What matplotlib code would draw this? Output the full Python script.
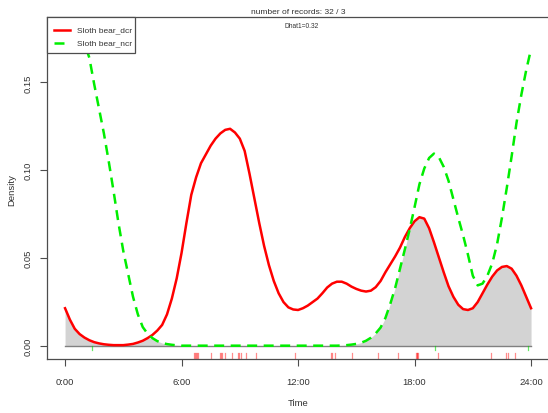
import matplotlib
matplotlib.use("Agg")
import matplotlib.pyplot as plt
from matplotlib.patches import Rectangle
from matplotlib.lines import Line2D
import numpy as np

plt.rcParams['font.family'] = ['Liberation Sans Narrow', 'Liberation Sans', 'DejaVu Sans']

# ---- data ----
hours = [0.00, 0.25, 0.50, 0.75, 1.00, 1.25, 1.50, 1.75, 2.00, 2.25, 2.50, 2.75,
         3.00, 3.25, 3.50, 3.75, 4.00, 4.25, 4.50, 4.75, 5.00, 5.25, 5.50, 5.75,
         6.00, 6.25, 6.50, 6.75, 7.00, 7.25, 7.50, 7.75, 8.00, 8.25, 8.50, 8.75,
         9.00, 9.25, 9.50, 9.75, 10.00, 10.25, 10.50, 10.75, 11.00, 11.25, 11.50, 11.75,
         12.00, 12.25, 12.50, 12.75, 13.00, 13.25, 13.50, 13.75, 14.00, 14.25, 14.50, 14.75,
         15.00, 15.25, 15.50, 15.75, 16.00, 16.25, 16.50, 16.75, 17.00, 17.25, 17.50, 17.75,
         18.00, 18.25, 18.50, 18.75, 19.00, 19.25, 19.50, 19.75, 20.00, 20.25, 20.50, 20.75,
         21.00, 21.25, 21.50, 21.75, 22.00, 22.25, 22.50, 22.75, 23.00, 23.25, 23.50, 23.75,
         24.00]

dcr_density = [0.0215, 0.0150, 0.0098, 0.0068, 0.0048, 0.0033, 0.0022, 0.0015, 0.0010, 0.0007, 0.0005, 0.0005,
               0.0005, 0.0008, 0.0012, 0.0020, 0.0030, 0.0045, 0.0063, 0.0088, 0.0120, 0.0180, 0.0270, 0.0385,
               0.0530, 0.0700, 0.0860, 0.0960, 0.1040, 0.1090, 0.1140, 0.1180, 0.1210, 0.1230, 0.1236, 0.1215,
               0.1180, 0.1110, 0.0980, 0.0840, 0.0700, 0.0570, 0.0460, 0.0370, 0.0300, 0.0250, 0.0220, 0.0208,
               0.0205, 0.0215, 0.0230, 0.0250, 0.0270, 0.0300, 0.0333, 0.0355, 0.0366, 0.0366, 0.0355, 0.0338,
               0.0325, 0.0315, 0.0310, 0.0315, 0.0335, 0.0370, 0.0420, 0.0465, 0.0510, 0.0560, 0.0620, 0.0670,
               0.0710, 0.0733, 0.0725, 0.0670, 0.0590, 0.0505, 0.0420, 0.0340, 0.0280, 0.0235, 0.0210, 0.0205,
               0.0215, 0.0250, 0.0300, 0.0350, 0.0395, 0.0430, 0.0450, 0.0455, 0.0440, 0.0400, 0.0345, 0.0280,
               0.0215]

ncr_density = [0.1690, 0.1735, 0.1757, 0.1755, 0.1725, 0.1640, 0.1490, 0.1350, 0.1210, 0.1050, 0.0880, 0.0700,
               0.0540, 0.0410, 0.0280, 0.0180, 0.0108, 0.0070, 0.0045, 0.0028, 0.0017, 0.0011, 0.0007, 0.0004,
               0.0002, 0.0002, 0.0002, 0.0002, 0.0002, 0.0002, 0.0002, 0.0002, 0.0002, 0.0002, 0.0002, 0.0002,
               0.0002, 0.0002, 0.0002, 0.0002, 0.0002, 0.0002, 0.0002, 0.0002, 0.0002, 0.0002, 0.0002, 0.0002,
               0.0002, 0.0002, 0.0002, 0.0002, 0.0002, 0.0002, 0.0002, 0.0002, 0.0002, 0.0003, 0.0005, 0.0008,
               0.0012, 0.0019, 0.0030, 0.0047, 0.0072, 0.0105, 0.0160, 0.0240, 0.0330, 0.0440, 0.0550, 0.0665,
               0.0790, 0.0920, 0.1010, 0.1070, 0.1095, 0.1075, 0.1020, 0.0940, 0.0835, 0.0730, 0.0630, 0.0520,
               0.0400, 0.0345, 0.0355, 0.0400, 0.0470, 0.0580, 0.0730, 0.0900, 0.1080, 0.1270, 0.1430, 0.1570,
               0.1690]

dcr_times = [6.64, 6.69, 6.74, 6.80, 6.87, 7.53, 7.99, 8.04, 8.10, 8.25, 8.59, 8.93,
             8.98, 9.07, 9.32, 9.83, 11.83, 13.70, 13.77, 13.92, 14.78, 16.13, 17.15,
             18.06, 18.12, 18.12, 18.17, 19.22, 21.92, 22.72, 22.80, 23.16]
ncr_times = [1.37, 19.03, 23.84]

tick_hours = [0, 6, 12, 18, 24]
tick_labels = ["0:00", "6:00", "12:00", "18:00", "24:00"]
ytick_vals = [0.00, 0.05, 0.10, 0.15]
ytick_labels = ["0.00", "0.05", "0.10", "0.15"]

series_labels = ["Sloth bear_dcr", "Sloth bear_ncr"]
subtitle = "number of records: 32 / 3"
dhat_text = "Dhat1=0.32"

# ---- figure ----
W, H = 548, 414
fig = plt.figure(figsize=(W / 100, H / 100), dpi=100)

def fx(px):
    return px / W

def fy(py):
    return 1 - py / H

ax_left, ax_right, ax_top, ax_bottom = 47, 549.7, 17.5, 359.5
ax = fig.add_axes([fx(ax_left), fy(ax_bottom), fx(ax_right - ax_left), (ax_bottom - ax_top) / H])
ax.set_xlim(-0.93, 24.96)
ax.set_ylim(-0.0071, 0.1875)

h = np.array(hours)
d1 = np.array(dcr_density)
d2 = np.array(ncr_density)

ax.fill_between(h, 0, np.minimum(d1, d2), color='#d3d3d3', lw=0, zorder=1)
ax.plot([0, 24], [0, 0], color='#808080', lw=1.0, zorder=2)
ax.plot(h, d1, color='#ff0000', lw=1.8, zorder=3, solid_joinstyle='round')
ax.plot(h, d2, color='#00ee00', lw=1.8, zorder=3, dashes=(4, 2.6))

for t in dcr_times:
    ax.plot([t, t], [-0.0038, -0.0071], color='#ff0000', lw=0.9, alpha=0.45, zorder=2)
for t in ncr_times:
    ax.plot([t, t], [-0.0001, -0.0024], color='#00dd00', lw=0.9, alpha=0.6, zorder=2)

for s in ax.spines.values():
    s.set_color('#4d4d4d')
    s.set_linewidth(0.9)

ax.set_xticks(tick_hours)
ax.set_xticklabels(tick_labels)
ax.set_yticks(ytick_vals)
ax.set_yticklabels(ytick_labels, rotation=90, va='center')
ax.tick_params(axis='both', direction='out', length=5, width=0.8, color='#4d4d4d',
               labelsize=6.8, labelcolor='#333333')
ax.tick_params(axis='x', pad=8)
ax.tick_params(axis='y', pad=5)

fig.text(fx(12), fy(190), "Density", rotation=90, ha='center', va='center', fontsize=6.8, color='#333333')
fig.text(fx(298), fy(404), "Time", ha='center', va='center', fontsize=6.8, color='#333333')
fig.text(fx(298), fy(12), subtitle, ha='center', va='center', fontsize=6.0, color='#333333')
fig.text(fx(302), fy(27), dhat_text, ha='center', va='center', fontsize=4.8, color='#333333')

# legend (R-style box in the top-left corner)
fig.add_artist(Rectangle((fx(47), fy(54)), fx(135 - 47), (54 - 17.5) / H,
                         transform=fig.transFigure, facecolor='white', edgecolor='#4d4d4d',
                         lw=0.9, zorder=10))
fig.add_artist(Line2D([fx(54), fx(70)], [fy(30.8), fy(30.8)], transform=fig.transFigure,
                      color='#ff0000', lw=1.8, zorder=11))
fig.add_artist(Line2D([fx(54), fx(70)], [fy(43.7), fy(43.7)], transform=fig.transFigure,
                      color='#00ee00', lw=1.8, dashes=(4, 2.6), zorder=11))
fig.text(fx(77), fy(30.8), series_labels[0], ha='left', va='center', fontsize=6.0, color='#333333', zorder=12)
fig.text(fx(77), fy(43.7), series_labels[1], ha='left', va='center', fontsize=6.0, color='#333333', zorder=12)

fig.savefig("out.png", dpi=100)
